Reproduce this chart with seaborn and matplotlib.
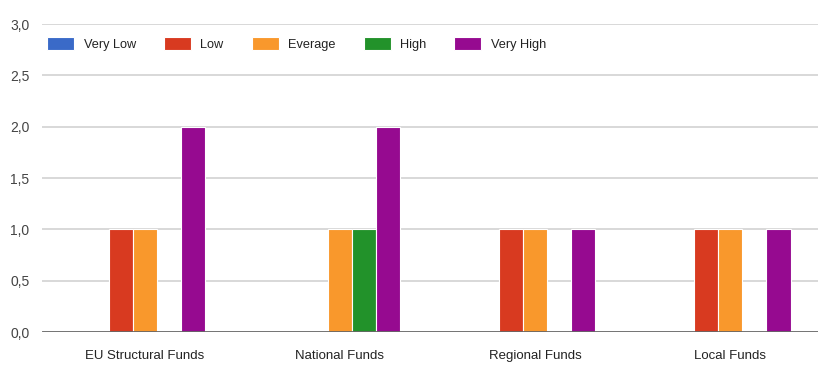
import seaborn as sns
import pandas as pd
import matplotlib.pyplot as plt
from matplotlib.ticker import FuncFormatter

categories = ['EU Structural Funds', 'National Funds', 'Regional Funds', 'Local Funds']
levels = ['Very Low', 'Low', 'Everage', 'High', 'Very High']
very_low = [0, 0, 0, 0]
low = [1, 0, 1, 1]
everage = [1, 1, 1, 1]
high = [0, 1, 0, 0]
very_high = [2, 2, 1, 1]
colors = ['#3a6ac8', '#d83a20', '#f9982c', '#22922a', '#960a90']

rows = []
for lvl, vals in zip(levels, [very_low, low, everage, high, very_high]):
    for cat, v in zip(categories, vals):
        rows.append({'fund': cat, 'level': lvl, 'value': v})
df = pd.DataFrame(rows)

sns.set_style('white')
plt.rcParams['font.family'] = ['Liberation Sans Narrow', 'Liberation Sans', 'DejaVu Sans']

fig = plt.figure(figsize=(8.18, 3.65), dpi=100)
ax = fig.add_axes([42 / 818, 33 / 365, 776 / 818, 308 / 365])

# bars
sns.barplot(data=df, x='fund', y='value', hue='level', hue_order=levels,
            palette=colors, width=0.62, ax=ax, edgecolor='white', linewidth=0.8,
            saturation=1, legend=True)

# grid + baseline
for y in [0.5, 1.0, 1.5, 2.0, 2.5, 3.0]:
    ax.axhline(y, color='#d6d6d6', lw=1.3, zorder=0)
ax.axhline(0, color='#666666', lw=2, zorder=5)

ax.set_ylim(0, 3.0)
ax.set_xlim(-0.528, 3.451)
ax.set_yticks([0, 0.5, 1.0, 1.5, 2.0, 2.5, 3.0])
ax.yaxis.set_major_formatter(FuncFormatter(lambda v, p: f'{v:.1f}'.replace('.', ',')))
ax.tick_params(axis='y', labelsize=10, colors='#444444', length=0, pad=9)
ax.tick_params(axis='x', labelsize=9.5, colors='#222222', length=0, pad=13)
ax.set_xlabel('')
ax.set_ylabel('')
for s in ax.spines.values():
    s.set_visible(False)

ax.legend(loc='center left', bbox_to_anchor=(0.0, 0.935), ncol=5, frameon=False,
          fontsize=9.2, handlelength=2.1, handleheight=1.1, handletextpad=0.75,
          columnspacing=2.2, borderaxespad=0, labelcolor='#222222')

plt.savefig('out.png', dpi=100)
